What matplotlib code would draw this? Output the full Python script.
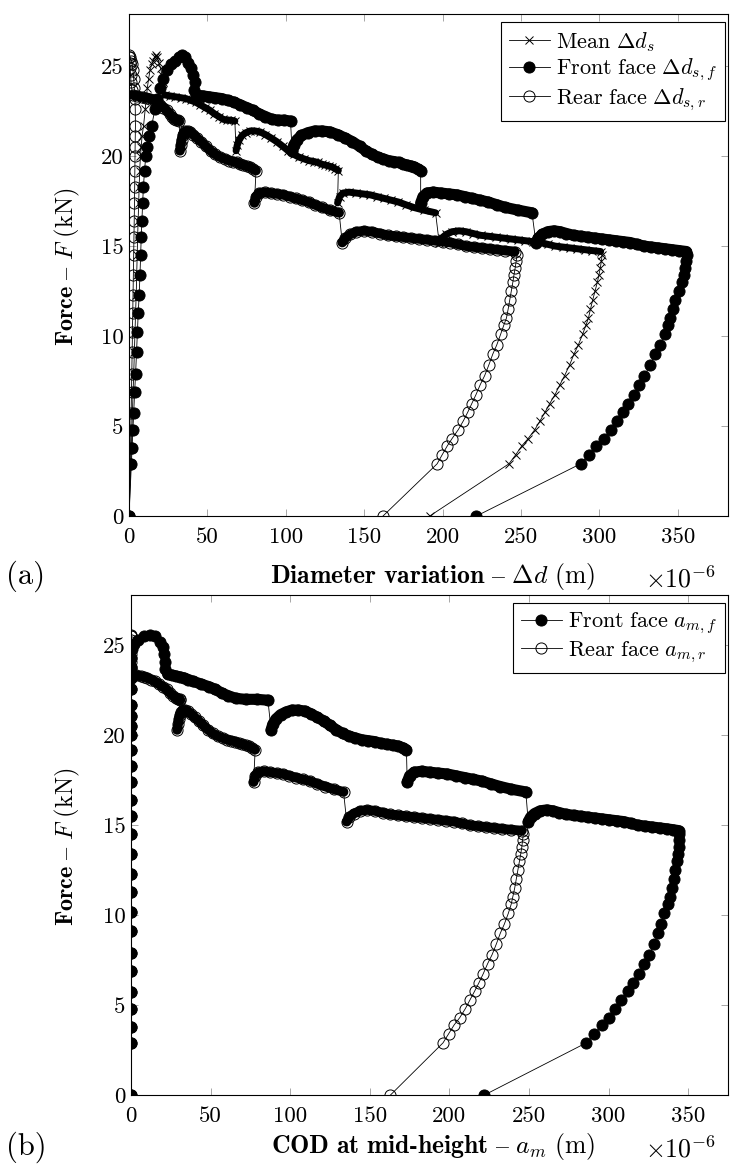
import numpy as np
import matplotlib

matplotlib.use("Agg")
from matplotlib import pyplot as plt

plt.rcParams.update(
    {
        "font.family": "cmr10",
        "mathtext.fontset": "cm",
        "axes.unicode_minus": False,
    }
)

# Force F (kN) at the recorded time steps, the same steps in both panels.
# One list per loading stage: elastic rise, peak, four plateaus between the
# crack jumps, unloading.
force = [
    [0, 2.9, 3.8, 4.8, 5.7, 6.9, 7.9, 9.1, 10.2, 11.3, 12.3, 13.4, 14.5, 15.5,
     16.4, 17.4, 18.3, 19.2, 20.0, 20.5, 21.1, 21.7],
    [22.6, 23.2, 23.8, 24.3, 24.8, 25.1, 25.3, 25.5, 25.6, 25.5, 25.2, 24.9,
     24.5, 24.1, 23.7],
    [23.4, 23.35, 23.3, 23.25, 23.2, 23.1, 23.0, 22.85, 22.7, 22.55, 22.35,
     22.2, 22.05, 22.0, 22.0, 21.95],
    [20.3, 20.6, 20.9, 21.15, 21.3, 21.4, 21.4, 21.35, 21.2, 21.0, 20.8, 20.55,
     20.3, 20.1, 19.95, 19.85, 19.75, 19.7, 19.65, 19.55, 19.5, 19.45, 19.4,
     19.3, 19.2],
    [17.4, 17.75, 17.95, 18.0, 17.95, 17.9, 17.85, 17.75, 17.65, 17.55, 17.45,
     17.3, 17.15, 17.0, 16.85],
    [15.2, 15.45, 15.65, 15.8, 15.85, 15.8, 15.7, 15.6, 15.55, 15.5, 15.45,
     15.4, 15.35, 15.3, 15.25, 15.2, 15.1, 15.0, 14.95, 14.9, 14.85, 14.8,
     14.75, 14.7],
    [14.5, 14.2, 13.8, 13.4, 13.0, 12.5, 12.0, 11.5, 11.0, 10.6, 10.1, 9.5,
     9.0, 8.4, 7.8, 7.3, 6.75, 6.25, 5.8, 5.3, 4.8, 4.3, 3.9, 3.4, 2.9, 0],
]

# (a) diameter variation, x1e-6 m
front_a = [
    [0, 1.5, 2.0, 2.5, 3.0, 3.6, 4.2, 4.8, 5.4, 5.9, 6.5, 7.0, 7.4, 7.8, 8.2,
     8.7, 9.2, 9.9, 10.7, 11.6, 12.6, 14.5],
    [16.5, 18, 20, 22, 24.5, 27, 29.5, 32, 34, 35.5, 37.5, 39.5, 41, 42, 41.5],
    [43, 47, 51, 55, 59, 63, 67, 71, 75, 79, 83, 87, 91, 95, 99, 103],
    [104, 105, 107, 110, 114, 118.5, 123, 128, 133, 138, 142.5, 147, 151, 155,
     158.5, 162, 165.5, 169, 172, 175, 177.5, 180, 182, 184, 186],
    [186, 187.5, 190, 194, 199, 204, 209, 214, 219, 224, 229, 234.5, 240, 248,
     257],
    [259.5, 261, 263.5, 267, 271, 275, 279, 283.5, 288, 292.5, 297, 301.5, 306,
     310.5, 315, 319.5, 324, 328.5, 333, 337.5, 342, 346.5, 351, 355.5],
    [355.8, 355.5, 354.8, 353.8, 352.5, 350.5, 348.5, 346.8, 345.2, 343.8,
     341.6, 338.5, 335.5, 332.4, 328.7, 325.5, 322, 318, 314.8, 311, 307.5,
     303, 298, 293.4, 288, 221.6],
]
rear_a = [
    [0, 0.8, 1.0, 1.2, 1.4, 1.6, 1.8, 2.0, 2.2, 2.4, 2.6, 2.8, 3.0, 3.2, 3.3,
     3.5, 3.6, 3.7, 3.8, 3.9, 4.0, 4.1],
    [4.0, 3.8, 3.4, 3.0, 2.5, 2.0, 1.4, 0.8, 0.3, 0.3, 0.5, 0.7, 1.0, 1.3, 1.8],
    [2.5, 5, 8, 11, 13.5, 16, 18, 20, 22, 24, 26, 27.5, 29, 30, 31, 32],
    [32.5, 33, 33.5, 34.2, 35, 36, 37.5, 39, 41, 43.5, 46, 49, 52, 55, 58, 61,
     64, 66.5, 69, 71, 73, 75, 77, 79, 81],
    [80, 81, 83, 86.5, 90.5, 94.5, 98.5, 102.5, 106.5, 110.5, 114.5, 118.5,
     123, 128, 134],
    [136, 138, 141, 145, 150, 155, 160, 165, 170, 175, 180, 185, 190, 195, 200,
     205, 210, 215, 220, 225, 230, 235, 240, 246],
    [247.5, 247, 246.3, 245.5, 244.8, 243.8, 242.8, 241.8, 240.7, 239, 237,
     234.5, 232, 229.5, 226.8, 224, 221.3, 218.6, 216.2, 213.3, 210, 206, 203,
     199.7, 196.5, 162],
]
mean_a = [
    [0, 1.2, 1.5, 1.9, 2.2, 2.6, 3.0, 3.4, 3.8, 4.2, 4.6, 4.9, 5.2, 5.5, 5.8,
     6.1, 6.4, 6.8, 7.3, 7.8, 8.3, 9.3],
    [10.3, 10.9, 11.7, 12.5, 13.5, 14.5, 15.5, 16.4, 17.2, 17.9, 19.0, 20.1,
     21.0, 21.7, 21.7],
    [22.8, 26, 29.5, 33, 36.3, 39.5, 42.5, 45.5, 48.5, 51.5, 54.5, 57.3, 60,
     62.5, 65, 67.5],
    [68.3, 69, 70.3, 72.1, 74.5, 77.3, 80.3, 83.5, 87, 90.8, 94.3, 98, 101.5,
     105, 108.3, 111.5, 114.8, 117.8, 120.5, 123, 125.3, 127.5, 129.5, 131.5,
     133.5],
    [133, 134.3, 136.5, 140.3, 144.8, 149.3, 153.8, 158.3, 162.8, 167.3, 171.8,
     176.5, 181.5, 188, 195.5],
    [197.8, 199.5, 202.3, 206, 210.5, 215, 219.5, 224.3, 229, 233.8, 238.5,
     243.3, 248, 252.8, 257.5, 262.3, 267, 271.8, 276.5, 281.3, 286, 290.8,
     295.5, 300.8],
    [301.7, 301.3, 300.6, 299.7, 298.7, 297.2, 295.7, 294.3, 293.0, 291.4,
     289.3, 286.5, 283.8, 281.0, 277.8, 274.8, 271.7, 268.3, 265.5, 262.2,
     258.8, 254.5, 250.5, 246.6, 242.3, 191.8],
]

# (b) COD at mid-height, x1e-6 m
front_b = [
    [0, 0, 0, 0, 0, 0, 0, 0, 0, 0, 0, 0, 0, 0, 0, 0, 0, 0, 0, 0, 0, 0],
    [0, 0, 0, 0, 0.5, 2, 4.5, 8, 12, 15, 18, 20, 21, 21.5, 21.5],
    [23, 25.5, 28, 30.5, 33, 36, 39, 44, 49, 53, 57, 61, 66, 72, 79, 86],
    [88, 89, 91, 94, 97.5, 101, 105, 109, 113, 117, 121, 125, 129, 133, 137,
     141, 145, 149, 153, 157, 161, 164.5, 168, 171, 173],
    [173.5, 175, 178, 182.5, 187.5, 193, 198.5, 204, 209.5, 215, 220.5, 226,
     232, 239, 248],
    [249.5, 251, 253.5, 257, 261, 265, 269, 273.5, 278, 282.5, 287, 291.5, 296,
     300.5, 305, 309.5, 314, 318.5, 323, 327.5, 332, 336.5, 340.5, 344],
    [344.5, 344.5, 344, 343.5, 343, 342, 341, 340, 338.5, 337, 335, 333, 331,
     328.5, 325.5, 322.5, 319, 315.5, 312, 308, 304, 300, 296, 291, 286, 222],
]
rear_b = [
    [0, 0, 0, 0, 0, 0, 0, 0, 0, 0, 0, 0, 0, 0, 0, 0, 0, 0, 0, 0, 0, 0],
    [0, 0, 0, 0, 0, 0, 0, 0, 0, 0, 0, 0, 0, 0, 0],
    [0.5, 3, 6, 8, 10, 12.5, 15, 17.5, 20, 22.5, 24.5, 26.5, 28.5, 29.5, 30.5,
     31],
    [29, 29.5, 30, 30.7, 31.5, 32.5, 34, 35.5, 37.5, 40, 42.5, 45.5, 48.5,
     51.5, 54.5, 57.5, 60.5, 63, 65.5, 68, 70, 72, 74, 76, 78],
    [77, 78, 80, 83.5, 87.5, 91.5, 95.5, 99.5, 103.5, 108, 112.5, 117, 122,
     127.5, 133.5],
    [135.5, 137, 140, 144, 148.5, 153, 158, 163, 168, 173, 178, 183, 188, 193,
     198, 203, 208, 213, 218, 223, 228, 233, 238.5, 245.5],
    [246.5, 246, 245.5, 244.8, 244, 243, 242, 241, 239.8, 238.8, 237, 234.5,
     232, 229.5, 226.8, 224, 221.3, 218.6, 216, 213, 210, 206.5, 203, 199.5,
     196, 163],
]

x_ticks = [0, 50, 100, 150, 200, 250, 300, 350]
y_ticks = [0, 5, 10, 15, 20, 25]

TICK_FS = 16.5
XLABEL_FS = 18.5
YLABEL_FS = 17.5
LEGEND_FS = 16

STYLE = {
    "mean": dict(marker="x", ms=6, mfc="black", band=5.0),
    "front": dict(marker="o", ms=8, mfc="black", band=8.0),
    "rear": dict(marker="o", ms=8, mfc="none", band=7.0),
}


def draw_series(ax, xs, kind, label):
    st = STYLE[kind]
    x = np.concatenate([np.asarray(s, float) for s in xs])
    y = np.concatenate([np.asarray(s, float) for s in force])
    ax.plot(x, y, color="black", lw=0.6, marker=st["marker"], ms=st["ms"],
            mfc=st["mfc"], mec="black", mew=0.7, label=label, zorder=2)
    # the densely sampled plateaus merge into a solid band in the original
    for k in range(2, 6):
        ax.plot(xs[k], force[k], color="black", lw=st["band"],
                solid_capstyle="round", zorder=3)


def setup_axes(ax, xmax, ymax):
    ax.set_xlim(0, xmax)
    ax.set_ylim(0, ymax)
    ax.set_xticks(x_ticks)
    ax.set_yticks(y_ticks)
    ax.tick_params(direction="in", length=5, width=0.6, color="0.6",
                   top=True, right=True, labelsize=TICK_FS, labelcolor="black")
    ax.tick_params(axis="x", pad=8)
    ax.tick_params(axis="y", pad=4)
    for sp in ax.spines.values():
        sp.set_linewidth(0.8)


def add_legend(ax):
    leg = ax.legend(loc="upper right", bbox_to_anchor=(0.995, 0.984),
                    borderaxespad=0, fontsize=LEGEND_FS, fancybox=False,
                    edgecolor="black", framealpha=1, handlelength=1.85,
                    handletextpad=0.3, labelspacing=0.15, borderpad=0.35)
    leg.get_frame().set_linewidth(0.8)


W, H = 730, 1169
fig = plt.figure(figsize=(W / 100, H / 100), dpi=100)

ax_a = fig.add_axes([129 / W, 1 - 516 / H, 599 / W, 502 / H])
draw_series(ax_a, mean_a, "mean", r"$\mathrm{Mean}\ \Delta d_s$")
draw_series(ax_a, front_a, "front", r"$\mathrm{Front\ face}\ \Delta d_{s,f}$")
draw_series(ax_a, rear_a, "rear", r"$\mathrm{Rear\ face}\ \Delta d_{s,r}$")
setup_axes(ax_a, 382, 27.9)
add_legend(ax_a)

ax_b = fig.add_axes([131 / W, 1 - 1095 / H, 597 / W, 500 / H])
draw_series(ax_b, front_b, "front", r"$\mathrm{Front\ face}\ a_{m,f}$")
draw_series(ax_b, rear_b, "rear", r"$\mathrm{Rear\ face}\ a_{m,r}$")
setup_axes(ax_b, 375, 27.8)
add_legend(ax_b)

ylabel = r"$\mathbf{Force}\ –\ F\ (\mathrm{kN})$"
fig.text(67 / W, 1 - 267 / H, ylabel, rotation=90, ha="center", va="center",
         fontsize=YLABEL_FS)
fig.text(67 / W, 1 - 847 / H, ylabel, rotation=90, ha="center", va="center",
         fontsize=YLABEL_FS)

fig.text(433 / W, 1 - 577 / H,
         r"$\mathbf{Diameter\ variation}\ –\ \Delta d\ (\mathrm{m})$",
         ha="center", va="center", fontsize=XLABEL_FS)
fig.text(433 / W, 1 - 1147 / H,
         r"$\mathbf{COD\ at\ mid‐height}\ –\ a_m\ (\mathrm{m})$",
         ha="center", va="center", fontsize=XLABEL_FS)

for yc in (579, 1149):
    fig.text(681 / W, 1 - yc / H, r"$\times 10^{-6}$", ha="center",
             va="center", fontsize=XLABEL_FS)

fig.text(26 / W, 1 - 576 / H, "(a)", ha="center", va="center", fontsize=22)
fig.text(26 / W, 1 - 1147 / H, "(b)", ha="center", va="center", fontsize=22)

fig.savefig("out.png", dpi=100)
